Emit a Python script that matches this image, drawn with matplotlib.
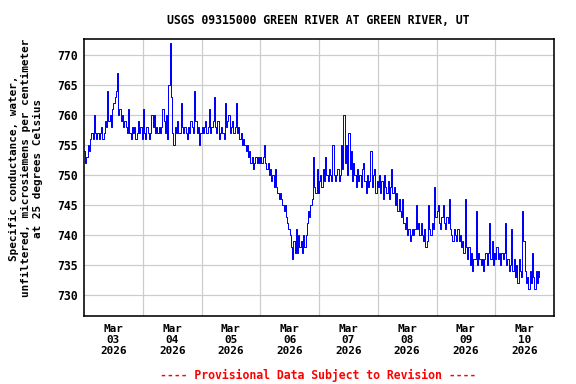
import numpy as np
import matplotlib
matplotlib.use("Agg")
import matplotlib.pyplot as plt

# --- data: specific conductance, 30-minute values, one list per day ---
mar03 = [754, 752, 753, 755, 754, 756, 757, 756, 760, 757,
         756, 757, 756, 757, 758, 756, 757, 759, 758, 764,
         759, 760, 758, 761, 762, 763, 764, 767, 760, 761,
         759, 760, 758, 759, 758, 757, 761, 757, 756, 758,
         757, 758, 756, 757, 759, 757, 758, 756]
mar04 = [761, 757, 756, 758, 757, 756, 757, 760, 758, 760, 757, 758, 757, 758,
         757, 758, 761, 759, 757, 760, 756, 765, 772, 763,
         757, 755, 758, 757, 759, 757, 757, 762,
         758, 757, 758, 757, 756, 758, 757, 759, 758, 757,
         764, 759, 757, 758, 755, 757]
mar05 = [758, 757, 758, 759, 757, 758, 761, 757, 758, 759, 763,
         758, 757, 759, 756, 757, 758, 757, 756, 762, 758,
         759, 760, 757, 758, 759, 757, 758, 762,
         757, 758, 756, 757, 755, 756, 755,
         754, 755, 753, 754, 752, 753, 751, 752,
         753, 752, 753, 752]
mar06 = [753, 752, 753, 755, 752,
         751, 752, 750, 751, 749, 750, 748, 751,
         748, 747, 746, 747, 746,
         745, 744, 745, 743, 742, 741,
         740, 738, 736, 739, 737,
         741, 737, 740, 738, 739, 737, 740, 738,
         740, 742, 744, 743, 745,
         746, 753, 748, 747, 751, 747]
mar07 = [749, 750, 748, 751, 749, 753, 750, 749, 751, 750,
         749, 755, 750, 749, 750, 751, 749, 750,
         755, 751, 760, 752, 755, 750,
         757, 751, 754, 749, 752,
         750, 748, 751, 749, 750, 748, 751, 752,
         749, 747, 750, 748, 749, 754, 748, 750,
         751, 747, 749]
mar08 = [748, 750, 747, 749, 746, 750, 748, 747, 749, 746, 748, 751,
         747, 748, 745, 747, 744, 746, 744,
         743, 746, 742, 741, 743,
         740, 741, 739, 740, 741,
         740, 741, 745, 741, 742, 740,
         742, 740, 739, 741, 738, 739,
         745, 741, 740, 742, 741, 748, 743]
mar09 = [744, 745, 742, 741, 743, 745, 742, 741, 743, 742, 746,
         741, 740, 739, 741, 740, 739, 741, 739,
         740, 738, 739, 737, 746, 738,
         736, 738, 735, 737, 734, 736, 736,
         744, 735, 737, 736, 735, 736, 734, 736,
         737, 735, 737, 742, 736, 739, 735, 737]
mar10 = [736, 738, 736, 737, 735, 737, 736, 737, 742,
         735, 736, 734, 735, 741, 734,
         736, 733, 735, 732, 736, 734, 733, 744,
         739, 734, 732, 733, 731, 734, 732, 737,
         733, 731, 734, 732, 734, 733]

values = mar03 + mar04 + mar05 + mar06 + mar07 + mar08 + mar09 + mar10
start = np.datetime64("2026-03-03T00:00")
times = start + np.arange(len(values)) * np.timedelta64(30, "m")

day_labels = ["Mar\n03\n2026", "Mar\n04\n2026", "Mar\n05\n2026", "Mar\n06\n2026",
              "Mar\n07\n2026", "Mar\n08\n2026", "Mar\n09\n2026", "Mar\n10\n2026"]
y_ticks = [730, 735, 740, 745, 750, 755, 760, 765, 770]

FONT = "DejaVu Sans Mono"

fig = plt.figure(figsize=(8, 384 / 72), dpi=72)
ax = fig.add_axes([84 / 576, 1 - 316 / 384, (554 - 84) / 576, (316 - 39) / 384])

ax.plot(times, values, color="#0000ff", lw=1.0, drawstyle="steps-post")

x0 = np.datetime64("2026-03-03T00:00")
x1 = np.datetime64("2026-03-11T00:00")
ax.set_xlim(x0, x1)
ax.set_ylim(726.5, 772.7)

midnights = x0 + np.arange(1, 8) * np.timedelta64(1, "D")
noons = x0 + np.arange(8) * np.timedelta64(1, "D") + np.timedelta64(12, "h")
ax.set_xticks(noons)
ax.set_xticklabels(day_labels, fontfamily=FONT, fontweight="bold", fontsize=11,
                   linespacing=1.1)
ax.set_xticks(midnights, minor=True)
ax.set_yticks(y_ticks)
ax.set_yticklabels([str(v) for v in y_ticks], fontfamily=FONT, fontweight="bold",
                   fontsize=11.5)

ax.grid(False)
ax.grid(True, which="minor", axis="x", color="#cccccc", lw=1.2)
ax.grid(True, which="major", axis="y", color="#cccccc", lw=1.2)
ax.set_axisbelow(True)
ax.tick_params(axis="both", which="both", length=0)
ax.tick_params(axis="x", pad=8)
ax.tick_params(axis="y", pad=6)
for sp in ax.spines.values():
    sp.set_color("black")
    sp.set_linewidth(1.6)

fig.text(318.5 / 576, 1 - 20 / 384, "USGS 09315000 GREEN RIVER AT GREEN RIVER, UT",
         ha="center", va="center", fontfamily=FONT, fontweight="bold", fontsize=11.5)
fig.text(26 / 576, 1 - 168 / 384,
         "Specific conductance, water,\nunfiltered, microsiemens per centimeter\nat 25 degrees Celsius",
         ha="center", va="center", rotation=90, multialignment="center",
         fontfamily=FONT, fontweight="bold", fontsize=11, linespacing=1.25)
fig.text(318.5 / 576, 1 - 375 / 384, "---- Provisional Data Subject to Revision ----",
         ha="center", va="center", color="#ff0000", fontfamily=FONT,
         fontweight="bold", fontsize=11.5)

fig.savefig("out.png", dpi=72, facecolor="white")
